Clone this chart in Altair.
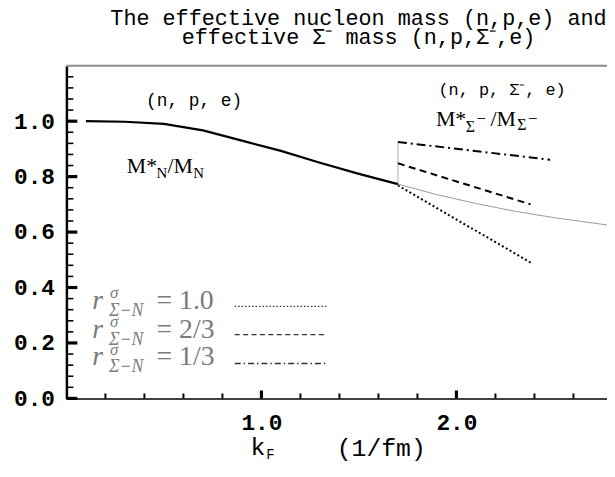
import altair as alt
import pandas as pd

# ---------------- data ----------------
kf_npe = [0.1, 0.3, 0.5, 0.7, 0.9, 1.1, 1.3, 1.5, 1.7]
m_npe = [1.0, 0.998, 0.99, 0.967, 0.93, 0.893, 0.85, 0.81, 0.773]

kf_cont = [1.7, 1.9, 2.1, 2.3, 2.5, 2.8]
m_cont = [0.773, 0.735, 0.703, 0.675, 0.652, 0.623]

kf_thr = [1.7, 1.7]
m_thr = [0.773, 0.925]

kf_r10 = [1.7, 2.39]
m_r10 = [0.768, 0.486]
kf_r23 = [1.7, 2.38]
m_r23 = [0.848, 0.70]
kf_r13 = [1.7, 2.48]
m_r13 = [0.925, 0.861]

x_major = [1.0, 2.0]
x_minor = [0.2, 0.4, 0.6, 0.8, 1.2, 1.4, 1.6, 1.8, 2.2, 2.4, 2.6]
y_major = [0.0, 0.2, 0.4, 0.6, 0.8, 1.0]
y_minor = [round(0.04 * i, 2) for i in range(1, 31) if i % 5 != 0]

legend_labels = ["= 1.0", "= 2/3", "= 1/3"]
legend_dash = [[1.5, 2], [5, 3.5], [6, 3, 1.5, 3]]

title_lines = ["The effective nucleon mass (n,p,e) and", "effective Σ⁻ mass (n,p,Σ⁻,e)"]

# ---------------- layout ----------------
W, H = 546, 336
XMAX, YMAX = 2.772, 1.2
MONO = "Liberation Mono"
SERIF = "Liberation Serif"

xs = alt.Scale(domain=[0, XMAX], nice=False, zero=False)
ys = alt.Scale(domain=[0, YMAX], nice=False, zero=False)

xaxis = alt.Axis(values=x_major, format=".1f", labelFont=MONO, labelFontSize=23,
                 labelFontWeight="bold", labelColor="black", ticks=False, labelPadding=13,
                 domainColor="black", domainWidth=1.5, grid=False, title=None, labelFlush=False)
yaxis = alt.Axis(values=y_major, format=".1f", labelFont=MONO, labelFontSize=23,
                 labelFontWeight="bold", labelColor="black", ticks=False, labelPadding=12,
                 domainColor="black", domainWidth=2.5, grid=False, title=None)

X = alt.X("k:Q", scale=xs, axis=xaxis)
Y = alt.Y("m:Q", scale=ys, axis=yaxis)


def line(ks, ms, color="black", width=2.0, dash=None, clip=False):
    kw = dict(color=color, strokeWidth=width, clip=clip)
    if dash:
        kw["strokeDash"] = dash
    return alt.Chart(pd.DataFrame({"k": ks, "m": ms})).mark_line(**kw).encode(x=X, y=Y)


def txt(k, m, text, size, font=MONO, dx=0, dy=0, align="left", baseline="alphabetic",
        color="black", style="normal", weight="normal"):
    return alt.Chart(pd.DataFrame({"k": [k], "m": [m], "t": [text]})).mark_text(
        font=font, fontSize=size, dx=dx, dy=dy, align=align, baseline=baseline,
        color=color, fontStyle=style, fontWeight=weight).encode(x=X, y=Y, text="t:N")


def tick_segments(values, length_px, vertical):
    """inward axis ticks as short two-point segments (length given in pixels)"""
    rows = []
    for i, v in enumerate(values):
        if vertical:  # on the x axis, pointing up
            d = length_px * YMAX / H
            rows += [{"k": v, "m": 0.0, "tid": i}, {"k": v, "m": d, "tid": i}]
        else:  # on the y axis, pointing right
            d = length_px * XMAX / W
            rows += [{"k": 0.0, "m": v, "tid": i}, {"k": d, "m": v, "tid": i}]
    return pd.DataFrame(rows)


layers = []

# curves
layers.append(line(kf_cont, m_cont, color="#9a9a9a", width=1.0, clip=True))
layers.append(line(kf_thr, m_thr, color="#b0b0b0", width=1.0))
layers.append(line(kf_npe, m_npe, color="black", width=2.2))
layers.append(line(kf_r10, m_r10, width=2.0, dash=[2, 2.5]))
layers.append(line(kf_r23, m_r23, width=2.0, dash=[7, 4.5]))
layers.append(line(kf_r13, m_r13, width=2.0, dash=[9, 4, 2, 4]))

# inward ticks
for vals, ln, vert, sw in [(y_minor, 7, False, 1.6), (y_major, 11, False, 3.2),
                           (x_minor, 5, True, 2.0), (x_major, 8, True, 3.2)]:
    layers.append(alt.Chart(tick_segments(vals, ln, vert))
                  .mark_line(color="black", strokeWidth=sw, strokeCap="butt")
                  .encode(x=X, y=Y, detail="tid:N"))

# top frame line
layers.append(alt.Chart(pd.DataFrame({"k": [0]})).mark_rule(color="#8c8c8c", strokeWidth=2)
              .encode(x=alt.value(0), x2=alt.value(W), y=alt.value(0)))

# annotations
layers.append(txt(0.655, 1.071, "(n, p, e)", 18, align="center", baseline="middle"))
ax, ay = 0.31, 0.814
layers.append(txt(ax, ay, "M*", 22, font=SERIF))
layers.append(txt(ax, ay, "N", 15, font=SERIF, dx=30, dy=5))
layers.append(txt(ax, ay, "/M", 22, font=SERIF, dx=41))
layers.append(txt(ax, ay, "N", 15, font=SERIF, dx=67, dy=5))

layers.append(txt(2.234, 1.111, "(n, p, Σ⁻, e)", 17, align="center", baseline="middle"))
bx, by = 1.895, 0.982
layers.append(txt(bx, by, "M*", 22, font=SERIF))
layers.append(txt(bx, by, "Σ", 16, font=SERIF, dx=30, dy=6))
layers.append(txt(bx, by, "−", 17, font=SERIF, dx=41, dy=-2))
layers.append(txt(bx, by, "/M", 22, font=SERIF, dx=55))
layers.append(txt(bx, by, "Σ", 16, font=SERIF, dx=82, dy=4))
layers.append(txt(bx, by, "−", 17, font=SERIF, dx=93, dy=-2))

# axis title
layers.append(txt(0.944, -0.175, "k", 25, baseline="middle"))
layers.append(txt(0.944, -0.175, "F", 14, dx=16, dy=8, baseline="middle"))
layers.append(txt(1.386, -0.18, "(1/fm)", 25, baseline="middle"))

# legend
leg_base = [0.323, 0.219, 0.119]
leg_line_y = [0.332, 0.230, 0.126]
GRAY = "#7b7b7b"
for lbl, by_, ly, dsh in zip(legend_labels, leg_base, leg_line_y, legend_dash):
    lx = 0.132
    layers.append(txt(lx, by_, "r", 28, font=SERIF, style="italic", color=GRAY))
    layers.append(txt(lx, by_, "σ", 17, font=SERIF, style="italic", color=GRAY, dx=18, dy=-11))
    layers.append(txt(lx, by_, "Σ−N", 18, font=SERIF, style="italic", color=GRAY, dx=17, dy=7))
    layers.append(txt(lx, by_, lbl, 28, font=SERIF, color=GRAY, dx=65))
    layers.append(alt.Chart(pd.DataFrame({"k": [0.863, 1.335], "m": [ly, ly]}))
                  .mark_line(color="#333333", strokeWidth=1.4, strokeDash=dsh)
                  .encode(x=X, y=Y))

chart = alt.layer(*layers).properties(
    width=W, height=H,
    padding={"left": 59, "top": 56, "right": 0, "bottom": 70},
    autosize=alt.AutoSizeParams(type="none"),
    title=alt.TitleParams(text=title_lines, font=MONO, fontSize=22, fontWeight="normal",
                          lineHeight=19, anchor="middle", dx=22, offset=16, color="black"),
).configure_view(stroke=None).configure_axis(grid=False)

chart.save("out.html", embed_options={"renderer": "svg", "actions": False})
